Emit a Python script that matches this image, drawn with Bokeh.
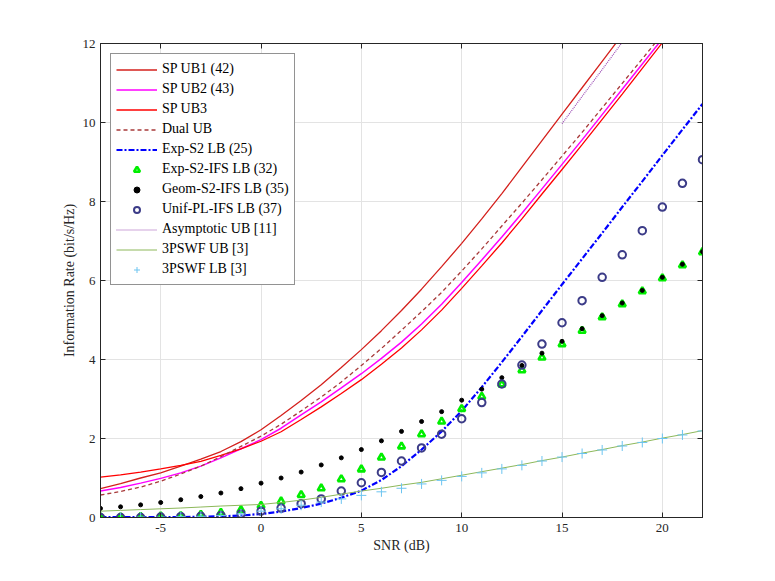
from bokeh.plotting import figure
from bokeh.models import Range1d, FixedTicker, LinearAxis, Legend
from bokeh.embed import file_html
from bokeh.resources import INLINE

snr = list(range(-8, 23))

sp_ub1 = [0.73, 0.86, 1.00, 1.13, 1.30, 1.48, 1.67, 1.92, 2.22, 2.58, 2.96, 3.36, 3.80, 4.25,
          4.73, 5.24, 5.78, 6.35, 6.94, 7.56, 8.20, 8.87, 9.54, 10.21, 10.88, 11.55, 12.22,
          12.89, 13.56, 14.23, 14.90]
sp_ub2 = [0.67, 0.76, 0.87, 0.99, 1.13, 1.30, 1.51, 1.74, 1.97, 2.26, 2.60, 2.93, 3.28, 3.64,
          4.03, 4.44, 4.90, 5.40, 5.95, 6.52, 7.10, 7.70, 8.32, 8.94, 9.56, 10.20, 10.84,
          11.48, 12.12, 12.76, 13.40]
sp_ub3 = [1.02, 1.08, 1.15, 1.23, 1.32, 1.42, 1.57, 1.74, 1.93, 2.17, 2.48, 2.80, 3.14, 3.49,
          3.88, 4.29, 4.75, 5.25, 5.80, 6.37, 6.95, 7.56, 8.19, 8.81, 9.44, 10.08, 10.72,
          11.37, 12.02, 12.67, 13.32]
dual_ub = [0.57, 0.66, 0.77, 0.92, 1.10, 1.30, 1.54, 1.80, 2.06, 2.36, 2.70, 3.05, 3.43, 3.85,
           4.28, 4.74, 5.21, 5.70, 6.24, 6.80, 7.38, 7.96, 8.55, 9.15, 9.75, 10.37, 10.99,
           11.61, 12.24, 12.87, 13.50]
exp_s2_lb = [0.01, 0.01, 0.01, 0.01, 0.01, 0.02, 0.03, 0.05, 0.09, 0.15, 0.24, 0.35, 0.50, 0.68,
             0.95, 1.30, 1.72, 2.18, 2.70, 3.30, 3.93, 4.58, 5.24, 5.90, 6.55, 7.20, 7.86,
             8.51, 9.17, 9.82, 10.47]
exp_s2_ifs = [0.01, 0.01, 0.02, 0.03, 0.04, 0.07, 0.12, 0.19, 0.30, 0.41, 0.57, 0.74, 0.97, 1.22,
              1.52, 1.80, 2.11, 2.43, 2.75, 3.06, 3.37, 3.73, 4.05, 4.39, 4.73, 5.07, 5.40,
              5.73, 6.06, 6.39, 6.72]
geom_s2_ifs = [0.23, 0.27, 0.32, 0.38, 0.45, 0.53, 0.62, 0.73, 0.87, 1.00, 1.15, 1.33, 1.51, 1.72,
               1.94, 2.18, 2.43, 2.68, 2.97, 3.25, 3.54, 3.85, 4.16, 4.46, 4.78, 5.11, 5.43,
               5.75, 6.08, 6.41, 6.73]
unif_pl_ifs = [0.00, 0.00, 0.00, 0.01, 0.02, 0.03, 0.05, 0.09, 0.16, 0.24, 0.35, 0.47, 0.67, 0.88,
               1.14, 1.43, 1.76, 2.11, 2.50, 2.91, 3.38, 3.86, 4.39, 4.93, 5.49, 6.08, 6.65,
               7.26, 7.86, 8.46, 9.06]
asym_snr = [15, 16, 17, 18, 19, 20, 21, 22]
asym_ub = [9.97, 10.66, 11.34, 12.03, 12.71, 13.40, 14.08, 14.77]
pswf_ub = [0.16, 0.18, 0.20, 0.22, 0.24, 0.265, 0.29, 0.31, 0.33, 0.38, 0.44, 0.51, 0.59, 0.67,
           0.74, 0.82, 0.89, 0.98, 1.07, 1.16, 1.25, 1.34, 1.44, 1.53, 1.63, 1.72, 1.82,
           1.91, 2.01, 2.10, 2.20]
pswf_lb = [0.00, 0.00, 0.01, 0.01, 0.02, 0.03, 0.05, 0.09, 0.16, 0.22, 0.31, 0.39, 0.47, 0.56,
           0.65, 0.74, 0.85, 0.94, 1.04, 1.13, 1.23, 1.32, 1.43, 1.53, 1.62, 1.71, 1.81,
           1.90, 2.00, 2.09, 2.19]

x_ticks = [-5, 0, 5, 10, 15, 20]
x_tick_labels = ["-5", "0", "5", "10", "15", "20"]
y_ticks = [0, 2, 4, 6, 8, 10, 12]

FONT = "Liberation Serif"
AX = "#262626"

p = figure(frame_width=602, frame_height=474, width=767, height=573,
           min_border_left=100, min_border_right=65, min_border_top=43, min_border_bottom=56,
           x_range=Range1d(-8, 22), y_range=Range1d(0, 12),
           output_backend="svg", toolbar_location=None,
           x_axis_label="SNR (dB)", y_axis_label="Information Rate (bit/s/Hz)")
p.background_fill_color = "white"
p.border_fill_color = "white"
p.outline_line_color = AX
p.outline_line_width = 1

for ax in (p.xaxis[0], p.yaxis[0]):
    ax.axis_line_color = AX
    ax.major_tick_line_color = AX
    ax.major_tick_in = 5
    ax.major_tick_out = 0
    ax.minor_tick_line_color = None
    ax.major_label_text_font = FONT
    ax.major_label_text_font_size = "13px"
    ax.major_label_text_color = AX
    ax.axis_label_text_font = FONT
    ax.axis_label_text_font_size = "14px"
    ax.axis_label_text_font_style = "normal"
    ax.axis_label_text_color = AX
p.xaxis[0].ticker = FixedTicker(ticks=x_ticks)
p.xaxis[0].major_label_overrides = dict(zip(x_ticks, x_tick_labels))
p.yaxis[0].ticker = FixedTicker(ticks=y_ticks)
p.xaxis[0].major_label_standoff = 6
p.xaxis[0].axis_label_standoff = 3
p.yaxis[0].major_label_standoff = 5
p.yaxis[0].axis_label_standoff = 3

for loc, tk in (("right", y_ticks), ("above", x_ticks)):
    a = LinearAxis(ticker=FixedTicker(ticks=tk))
    a.axis_line_color = AX
    a.major_tick_line_color = AX
    a.major_tick_in = 5
    a.major_tick_out = 0
    a.minor_tick_line_color = None
    a.major_label_overrides = {t: "" for t in tk}
    a.major_label_standoff = 0
    p.add_layout(a, loc)

p.xgrid.ticker = FixedTicker(ticks=x_ticks)
p.ygrid.ticker = FixedTicker(ticks=y_ticks)
p.grid.grid_line_color = "#e3e3e3"
p.grid.grid_line_width = 1

r1 = p.line(snr, sp_ub1, line_color="#D4201C", line_width=1.3)
r2 = p.line(snr, sp_ub2, line_color="#FF00FF", line_width=1.5)
r3 = p.line(snr, sp_ub3, line_color="#FF0000", line_width=1.3)
r4 = p.line(snr, dual_ub, line_color="#A83A3A", line_width=1.3, line_dash="4 3")
r5 = p.line(snr, exp_s2_lb, line_color="#0000FF", line_width=2.2, line_dash="6 2 2 2")
r6 = p.scatter(snr, exp_s2_ifs, marker="triangle", size=7, fill_color=None,
               line_color="#00EE00", line_width=2.6)
r7 = p.scatter(snr, geom_s2_ifs, marker="circle", size=4, fill_color="black", line_color="black")
r8 = p.scatter(snr, unif_pl_ifs, marker="circle", size=7.5, fill_color=None,
               line_color="#3C3C88", line_width=2)
r9 = p.line(asym_snr, asym_ub, line_color="#9B4DB5", line_width=1.2, line_dash="1 1")
r10 = p.line(snr, pswf_ub, line_color="#8DB85A", line_width=1)
r11 = p.scatter(snr, pswf_lb, marker="cross", size=10, line_color="#6CC4F0", line_width=1)

legend = Legend(items=[
    ("SP UB1 (42)", [r1]), ("SP UB2 (43)", [r2]), ("SP UB3", [r3]), ("Dual UB", [r4]),
    ("Exp-S2 LB (25)", [r5]), ("Exp-S2-IFS LB (32)", [r6]), ("Geom-S2-IFS LB (35)", [r7]),
    ("Unif-PL-IFS LB (37)", [r8]), ("Asymptotic UB [11]", [r9]), ("3PSWF UB [3]", [r10]),
    ("3PSWF LB [3]", [r11])],
    location="top_left")
legend.margin = 10
legend.padding = 5
legend.spacing = 0
legend.label_height = 20
legend.glyph_height = 15
legend.glyph_width = 41
legend.label_standoff = 5
legend.label_text_font = FONT
legend.label_text_font_size = "14px"
legend.label_text_color = "black"
legend.border_line_color = AX
legend.border_line_width = 1
legend.background_fill_color = "white"
legend.background_fill_alpha = 1
p.add_layout(legend, "center")

open("out.html", "w").write(file_html(p, INLINE))
